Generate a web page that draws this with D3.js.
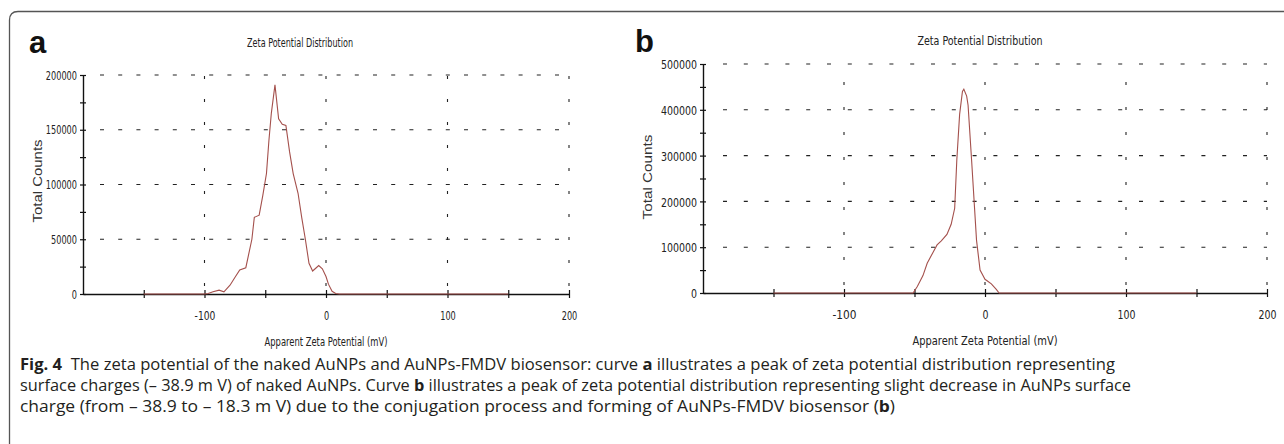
<!DOCTYPE html>
<html>
<head>
<meta charset="utf-8">
<script src="https://cdn.jsdelivr.net/npm/d3@7"></script>
<style>
  body { margin: 0; background: #fff; }
  svg { display: block; }
</style>
</head>
<body>
<svg id="fig" width="1284" height="444"></svg>
<script>
// curve a : naked AuNPs
const zetaA = [-150, -100, -97, -93, -88, -84, -79, -75, -71, -66, -61, -59, -55, -52, -49, -47, -45, -42,
  -39, -36, -33, -30, -27, -23, -20, -17, -14, -11, -8, -6, -3, 0, 2, 5, 8, 11, 150];
const countsA = [0, 0, 500, 2000, 3500, 2000, 8000, 15000, 22000, 24000, 50000, 70000, 72000, 90000, 110000, 140000, 165000, 191000,
  160000, 155000, 154000, 130000, 110000, 92000, 70000, 50000, 28000, 21000, 24000, 26000, 23000, 16000, 9000, 2500, 500, 0, 0];

// curve b : AuNPs-FMDV biosensor
const zetaB = [-150, -51, -48, -44, -41, -37, -34, -31, -27, -24, -21.5, -20, -18, -16, -15, -13, -12, -9.5,
  -6, -3.5, 0, 4.5, 8, 10, 150];
const countsB = [0, 0, 14000, 38000, 65000, 88000, 105000, 114000, 128000, 150000, 185000, 290000, 390000, 440000, 445000, 430000, 410000, 290000,
  115000, 50000, 30000, 20000, 8000, 0, 0];

const xTicks = [-150, -100, -50, 0, 50, 100, 150, 200];
const xTickLabels = [-100, 0, 100, 200];
const yTicksA = [0, 25000, 50000, 75000, 100000, 125000, 150000, 175000, 200000];
const yLabelsA = [0, 50000, 100000, 150000, 200000];
const yTicksB = [0, 50000, 100000, 150000, 200000, 250000, 300000, 350000, 400000, 450000, 500000];
const yLabelsB = [0, 100000, 200000, 300000, 400000, 500000];

const svg = d3.select('#fig');
const narrow = '"Liberation Sans Narrow", "Arial Narrow", "DejaVu Sans Condensed", sans-serif';

// frame, open at right and bottom
svg.append('path')
  .attr('d', 'M9.5,450 L9.5,20 Q9.5,11.5 18,11.5 L1290,11.5')
  .attr('fill', 'none')
  .attr('stroke', '#555')
  .attr('stroke-width', 1.3);

function drawPanel(p) {
  const x = d3.scaleLinear().domain([-200, 200]).range([p.left, p.right]);
  const y = d3.scaleLinear().domain([0, p.yMax]).range([p.bottom, p.top]);
  const g = svg.append('g');

  // grid
  g.selectAll('.hgrid')
    .data(p.yLabels.filter(d => d > 0))
    .enter()
    .append('line')
    .attr('x1', x(-200) + p.gridStart)
    .attr('x2', x(200))
    .attr('y1', d => y(d))
    .attr('y2', d => y(d))
    .attr('stroke', '#222')
    .attr('stroke-width', 1.1)
    .attr('stroke-dasharray', p.hDash);

  g.selectAll('.vgrid')
    .data(xTickLabels)
    .enter()
    .append('line')
    .attr('x1', d => x(d))
    .attr('x2', d => x(d))
    .attr('y1', y(0) - 8)
    .attr('y2', y(p.yMax) - 2)
    .attr('stroke', '#222')
    .attr('stroke-width', 1.1)
    .attr('stroke-dasharray', p.vDash);

  // y axis
  const yAxis = g.append('g')
    .attr('transform', `translate(${p.left},0)`)
    .call(d3.axisLeft(y).tickValues(p.yTicks).tickSizeOuter(0)
      .tickFormat(d => p.yLabels.includes(d) ? d : ''));
  yAxis.select('.domain').attr('stroke', '#111').attr('stroke-width', 1.4);
  yAxis.selectAll('.tick line').attr('x1', -3).attr('x2', 3).attr('stroke', '#111').attr('stroke-width', 1.2);
  yAxis.selectAll('.tick text')
    .attr('x', -6)
    .attr('dy', '0.36em')
    .attr('font-family', narrow)
    .attr('font-size', p.tickFont)
    .attr('fill', '#222')
    .filter(d => p.yLabels.includes(d))
    .attr('textLength', d => String(d).length * p.charW)
    .attr('lengthAdjust', 'spacingAndGlyphs');

  // x axis
  const xAxis = g.append('g')
    .attr('transform', `translate(0,${p.bottom})`)
    .call(d3.axisBottom(x).tickValues(xTicks).tickSizeOuter(0)
      .tickFormat(d => xTickLabels.includes(d) ? String(d) : ''));
  xAxis.select('.domain').attr('stroke', '#111').attr('stroke-width', 1.4);
  xAxis.selectAll('.tick line').attr('y1', -4).attr('y2', 4).attr('stroke', '#111').attr('stroke-width', 1.2);
  xAxis.selectAll('.tick text')
    .attr('y', 26)
    .attr('dy', 0)
    .attr('font-family', narrow)
    .attr('font-size', p.tickFont)
    .attr('fill', '#222')
    .filter(d => xTickLabels.includes(d))
    .attr('textLength', d => String(d).length * p.charW)
    .attr('lengthAdjust', 'spacingAndGlyphs');

  // curve, drawn over the axis like the instrument plot
  const line = d3.line().x(d => x(d[0])).y(d => y(d[1]));
  g.append('path')
    .datum(p.zeta.map((v, i) => [v, p.counts[i]]))
    .attr('d', line)
    .attr('fill', 'none')
    .attr('stroke', '#a4504c')
    .attr('stroke-width', 1.1);

  // title and axis labels
  g.append('text')
    .attr('x', p.titleX).attr('y', p.titleY)
    .attr('text-anchor', 'middle')
    .attr('font-family', narrow)
    .attr('font-size', p.tickFont)
    .attr('fill', '#222')
    .attr('textLength', p.titleW).attr('lengthAdjust', 'spacingAndGlyphs')
    .text('Zeta Potential Distribution');

  g.append('text')
    .attr('x', x(0)).attr('y', p.xLabelY)
    .attr('text-anchor', 'middle')
    .attr('font-family', narrow)
    .attr('font-size', p.tickFont)
    .attr('fill', '#222')
    .attr('textLength', p.xLabelW).attr('lengthAdjust', 'spacingAndGlyphs')
    .text('Apparent Zeta Potential (mV)');

  g.append('text')
    .attr('transform', `translate(${p.yLabelX},${p.yLabelY}) rotate(-90)`)
    .attr('text-anchor', 'middle')
    .attr('font-family', '"Liberation Sans", Arial, sans-serif')
    .attr('font-size', 12.5)
    .attr('fill', '#333')
    .attr('textLength', p.yLabelW).attr('lengthAdjust', 'spacingAndGlyphs')
    .text('Total Counts');

  g.append('text')
    .attr('x', p.tagX).attr('y', p.tagY)
    .attr('font-family', '"Liberation Sans", Arial, sans-serif')
    .attr('font-weight', 'bold')
    .attr('font-size', 31)
    .attr('fill', '#111')
    .text(p.tag);
}

drawPanel({
  tag: 'a', tagX: 29, tagY: 53,
  zeta: zetaA, counts: countsA, yTicks: yTicksA, yLabels: yLabelsA, yMax: 200000,
  left: 83, right: 569, top: 75, bottom: 294,
  hDash: '4,14.2', vDash: '3,20', gridStart: 17,
  tickFont: 11.5, charW: 5.2,
  titleX: 300, titleY: 47, titleW: 106,
  xLabelY: 346, xLabelW: 123,
  yLabelX: 42, yLabelY: 181, yLabelW: 83
});

drawPanel({
  tag: 'b', tagX: 635, tagY: 52,
  zeta: zetaB, counts: countsB, yTicks: yTicksB, yLabels: yLabelsB, yMax: 500000,
  left: 703, right: 1267, top: 64, bottom: 293,
  hDash: '4,16.8', vDash: '3,22', gridStart: 20,
  tickFont: 13, charW: 6,
  titleX: 980, titleY: 45, titleW: 125,
  xLabelY: 345, xLabelW: 145,
  yLabelX: 652, yLabelY: 177, yLabelW: 85
});

// caption
const captionLines = [
  { y: 370, w: 1095, parts: [['Fig. 4', true], ['  The zeta potential of the naked AuNPs and AuNPs-FMDV biosensor: curve ', false], ['a', true], [' illustrates a peak of zeta potential distribution representing', false]] },
  { y: 391, w: 1111, parts: [['surface charges (\u2013 38.9 m V) of naked AuNPs. Curve ', false], ['b', true], [' illustrates a peak of zeta potential distribution representing slight decrease in AuNPs surface', false]] },
  { y: 412, w: 875, parts: [['charge (from \u2013 38.9 to \u2013 18.3 m V) due to the conjugation process and forming of AuNPs-FMDV biosensor (', false], ['b', true], [')', false]] }
];

captionLines.forEach(l => {
  const t = svg.append('text')
    .attr('x', 20).attr('y', l.y)
    .attr('font-family', '"Open Sans", "Noto Sans", sans-serif')
    .attr('font-size', 15.5)
    .attr('fill', '#231f20')
    .attr('xml:space', 'preserve')
    .attr('textLength', l.w).attr('lengthAdjust', 'spacingAndGlyphs');
  l.parts.forEach(([s, b]) => {
    t.append('tspan').attr('font-weight', b ? 'bold' : 'normal').text(s);
  });
});
</script>
</body>
</html>
